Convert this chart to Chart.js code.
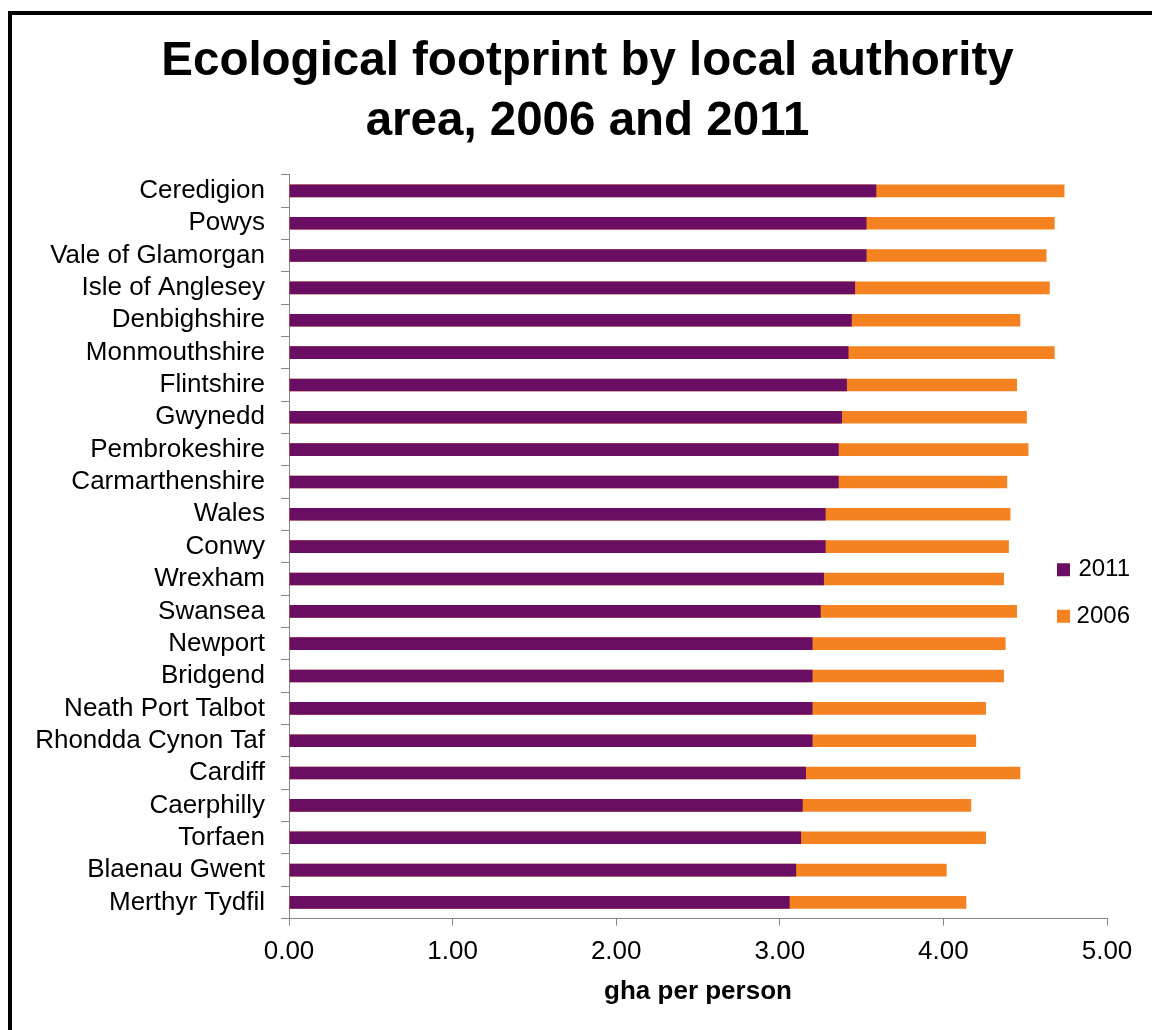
<!DOCTYPE html>
<html>
<head>
<meta charset="utf-8">
<title>Ecological footprint by local authority area</title>
<script src="https://cdn.jsdelivr.net/npm/chart.js@4.4.1/dist/chart.umd.min.js"></script>
<style>
    html, body { margin: 0; padding: 0; background: #fff; overflow: hidden; }
    #frame { position: absolute; left: 8px; top: 11px; border: 4px solid #000; background: #fff; }
    #chartBox { position: relative; width: 1148px; height: 1015px; }
</style>
</head>
<body>
<div id="frame"><div id="chartBox"><canvas id="footprintChart"></canvas></div></div>
<script>
// Data (gha per person)
const areas = [
    'Ceredigion', 'Powys', 'Vale of Glamorgan', 'Isle of Anglesey', 'Denbighshire',
    'Monmouthshire', 'Flintshire', 'Gwynedd', 'Pembrokeshire', 'Carmarthenshire',
    'Wales', 'Conwy', 'Wrexham', 'Swansea', 'Newport', 'Bridgend',
    'Neath Port Talbot', 'Rhondda Cynon Taf', 'Cardiff', 'Caerphilly',
    'Torfaen', 'Blaenau Gwent', 'Merthyr Tydfil'
];
const values2011 = [3.59, 3.53, 3.53, 3.46, 3.44, 3.42, 3.41, 3.38, 3.36, 3.36, 3.28, 3.28,
                    3.27, 3.25, 3.20, 3.20, 3.20, 3.20, 3.16, 3.14, 3.13, 3.10, 3.06];
const values2006 = [4.74, 4.68, 4.63, 4.65, 4.47, 4.68, 4.45, 4.51, 4.52, 4.39, 4.41, 4.40,
                    4.37, 4.45, 4.38, 4.37, 4.26, 4.20, 4.47, 4.17, 4.26, 4.02, 4.14];
const xMin = 0;
const xMax = 5;
const xStep = 1;

const purple = 'rgb(106, 14, 100)';
const orange = 'rgb(245, 130, 32)';
const axisGrey = '#868686';

Chart.defaults.font.family = '"Liberation Sans", Arial, sans-serif';
Chart.defaults.color = '#000';

// Excel puts the legend inside the plot area, to the right of the bars,
// and centres the title on the whole chart rather than on the plot
const layoutTweaks = {
    id: 'layoutTweaks',
    afterLayout(chart) {
        const lg = chart.legend;
        const area = chart.chartArea;
        const pad = lg.options.labels.padding;
        const midY = (area.top + area.bottom) / 2;
        lg.left = area.right - 50 - pad;
        lg.right = area.right + 23;
        lg.top = midY + 11 - pad;
        lg.bottom = lg.top + 200;
        lg.width = lg.right - lg.left;
        lg.height = lg.bottom - lg.top;

        const tb = chart.titleBlock;
        tb.left += 22;
        tb.right += 22;
    }
};

document.addEventListener('DOMContentLoaded', function() {
    const ctx = document.getElementById('footprintChart').getContext('2d');
    new Chart(ctx, {
        type: 'bar',
        data: {
            labels: areas,
            datasets: [{
                label: '2011',
                data: values2011,
                backgroundColor: purple,
                borderWidth: 0,
                grouped: false,
                categoryPercentage: 1,
                barPercentage: 0.39
            }, {
                label: '2006',
                data: values2006,
                backgroundColor: orange,
                borderWidth: 0,
                grouped: false,
                categoryPercentage: 1,
                barPercentage: 0.39
            }]
        },
        options: {
            indexAxis: 'y',
            responsive: true,
            maintainAspectRatio: false,
            animation: false,
            layout: {
                padding: { left: 12, right: 53, top: 0, bottom: 23 }
            },
            plugins: {
                title: {
                    display: true,
                    text: ['Ecological footprint by local authority', 'area, 2006 and 2011'],
                    font: { size: 47.5, weight: 'bold', lineHeight: 1.26 },
                    color: '#000',
                    padding: { top: 17, bottom: 23 }
                },
                legend: {
                    position: 'chartArea',
                    align: 'start',
                    labels: {
                        boxWidth: 13,
                        boxHeight: 13,
                        padding: 22.7,
                        textAlign: 'right',
                        font: { size: 24 },
                        color: '#000'
                    }
                },
                tooltip: { enabled: false }
            },
            scales: {
                x: {
                    min: xMin,
                    max: xMax,
                    ticks: {
                        stepSize: xStep,
                        callback: v => Number(v).toFixed(2),
                        font: { size: 26 },
                        color: '#000',
                        padding: 11
                    },
                    grid: { drawOnChartArea: false, tickLength: 7, color: axisGrey },
                    border: { display: true, color: axisGrey, width: 1 },
                    title: {
                        display: true,
                        text: 'gha per person',
                        font: { size: 26, weight: 'bold' },
                        color: '#000',
                        padding: { top: -3, bottom: 0 }
                    }
                },
                y: {
                    ticks: {
                        autoSkip: false,
                        font: { size: 26 },
                        color: '#000',
                        padding: 16
                    },
                    grid: { drawOnChartArea: false, offset: true, tickLength: 8, color: axisGrey },
                    border: { display: true, color: axisGrey, width: 1 },
                    afterFit(scale) {
                        scale.width = 265;
                    }
                }
            }
        },
        plugins: [layoutTweaks]
    });
});
</script>
</body>
</html>
